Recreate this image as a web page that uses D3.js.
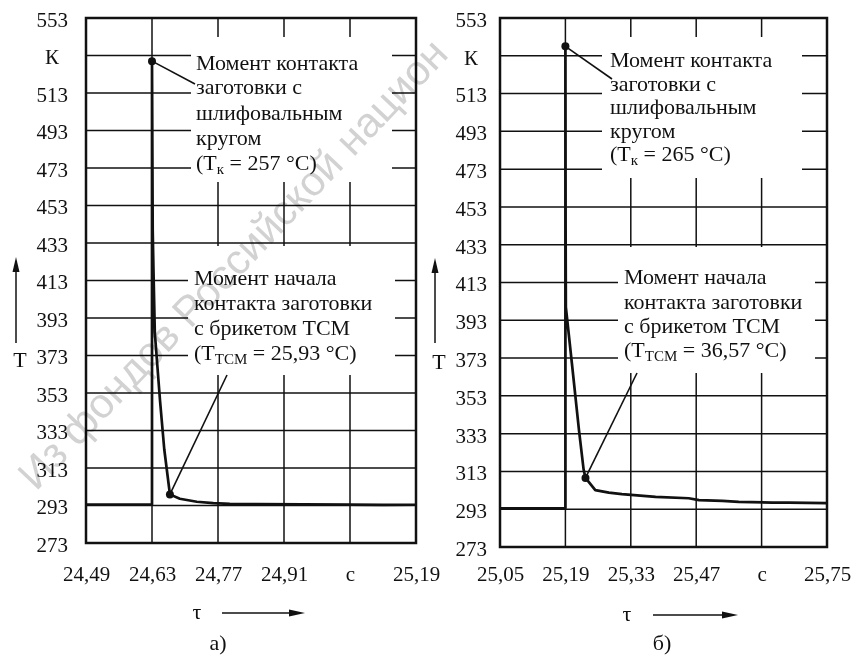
<!DOCTYPE html>
<html>
<head>
<meta charset="utf-8">
<script src="https://cdn.jsdelivr.net/npm/d3@7"></script>
<style>
  body { margin: 0; background: #fff; }
  svg { display: block; }
  .serif text, text.serif { font-family: "Liberation Serif", "Times New Roman", serif; fill: #111; }
</style>
</head>
<body>
<svg id="chart" width="851" height="660"></svg>
<script>
// ---- data -------------------------------------------------------------
// Temperature ticks, K (the 533 K position carries the unit "К")
const yTicks = [273, 293, 313, 333, 353, 373, 393, 413, 433, 453, 473, 493, 513, 533, 553];
const yUnitTick = 533;

// Panel а): time ticks, s (5th position carries the unit "с")
const tauTicksA = [24.49, 24.63, 24.77, 24.91, 25.05, 25.19];
// Panel б)
const tauTicksB = [25.05, 25.19, 25.33, 25.47, 25.61, 25.75];

// Thermocouple record, panel а)
const tauA  = [24.49, 24.63, 24.63, 24.6315, 24.633, 24.636, 24.647, 24.656, 24.668,
               24.689, 24.725, 24.76, 24.795, 24.85, 24.95, 25.05, 25.12, 25.19];
const tempA = [293.5, 293.5, 530, 440, 420, 385, 349, 323, 298.93,
               296.6, 295.0, 294.3, 293.9, 293.7, 293.6, 293.5, 293.3, 293.4];

// Thermocouple record, panel б)
const tauB  = [25.05, 25.19, 25.19, 25.1905, 25.191, 25.204, 25.219, 25.229, 25.233,
               25.254, 25.283, 25.311, 25.383, 25.454, 25.476, 25.526, 25.561, 25.633, 25.668, 25.75];
const tempB = [293.5, 293.5, 538, 440, 400, 370, 335, 314, 309.57,
               303.1, 301.8, 301.0, 299.5, 298.8, 297.8, 297.4, 296.9, 296.5, 296.5, 296.2];

// Marked moments: contact with the grinding wheel and with the ТСМ briquette (°C)
const contactTauA = 24.63, contactCA = 257;
const briquetteTauA = 24.668, briquetteCA = 25.93;
const contactTauB = 25.19, contactCB = 265;
const briquetteTauB = 25.233, briquetteCB = 36.57;
const KELVIN = 273;

// ---- helpers ----------------------------------------------------------
const svg = d3.select("#chart");
const ru = d3.formatLocale({ decimal: ",", thousands: " ", grouping: [3], currency: ["", ""] });
const f2 = ru.format(".2f");
const fC = v => (Number.isInteger(v) ? String(v) : f2(v));

function panel(opt) {
  const g = svg.append("g").attr("class", "serif");
  const x = d3.scaleLinear().domain([opt.ticks[0], opt.ticks[opt.ticks.length - 1]]).range([opt.x0, opt.x1]);
  const y = d3.scaleLinear().domain([273, 553]).range([opt.y0, opt.y1]);

  // grid
  g.append("g").selectAll("line").data(yTicks).join("line")
    .attr("x1", opt.x0).attr("x2", opt.x1)
    .attr("y1", d => y(d)).attr("y2", d => y(d))
    .attr("stroke", "#111").attr("stroke-width", 1.5);
  g.append("g").selectAll("line").data(opt.ticks).join("line")
    .attr("x1", d => x(d)).attr("x2", d => x(d))
    .attr("y1", opt.y0).attr("y2", opt.y1)
    .attr("stroke", "#111").attr("stroke-width", 1.5);

  // white fields behind the annotations
  g.append("g").selectAll("rect").data(opt.boxes).join("rect")
    .attr("x", b => b.x0).attr("y", b => b.y0)
    .attr("width", b => b.x1 - b.x0).attr("height", b => b.y1 - b.y0)
    .attr("fill", "#fff");

  // record
  const line = d3.line().x(d => x(d[0])).y(d => y(d[1]));
  g.append("path").datum(d3.zip(opt.tau, opt.temp))
    .attr("d", line).attr("fill", "none")
    .attr("stroke", "#111").attr("stroke-width", 2.7).attr("stroke-linejoin", "round");

  // leader lines and marker dots
  opt.marks.forEach(m => {
    g.append("line")
      .attr("x1", x(m.tau)).attr("y1", y(m.T))
      .attr("x2", m.to[0]).attr("y2", m.to[1])
      .attr("stroke", "#111").attr("stroke-width", 1.6);
    g.append("circle").attr("cx", x(m.tau)).attr("cy", y(m.T)).attr("r", 4).attr("fill", "#111");
  });

  // annotation text
  opt.boxes.forEach(b => {
    b.lines.forEach((segs, i) => {
      const t = g.append("text").attr("x", b.tx).attr("y", b.ty[i]).attr("dy", "0.35em")
        .attr("font-size", 22);
      segs.forEach(s => {
        if (typeof s === "string") t.append("tspan").text(s);
        else {
          t.append("tspan").attr("font-size", 15).attr("dy", 4).text(s.sub);
          t.append("tspan").attr("dy", -4).text(s.after);
        }
      });
    });
  });

  // frame
  g.append("rect").attr("x", opt.x0).attr("y", opt.y1)
    .attr("width", opt.x1 - opt.x0).attr("height", opt.y0 - opt.y1)
    .attr("fill", "none").attr("stroke", "#111").attr("stroke-width", 2.5);

  // axes (labels only)
  const yAxis = g.append("g").attr("transform", `translate(${opt.x0},0)`)
    .call(d3.axisLeft(y).tickValues(yTicks).tickSize(0).tickPadding(opt.yPad)
      .tickFormat(d => (d === yUnitTick ? "К" : d)));
  yAxis.select(".domain").remove();
  yAxis.attr("font-family", null).attr("font-size", 21);
  yAxis.selectAll(".tick text").attr("fill", "#111").attr("dy", "0.4em")
    .filter(d => d === yUnitTick).attr("text-anchor", "middle").attr("x", -(opt.yPad + 16));

  const xAxis = g.append("g").attr("transform", `translate(0,${opt.y0})`)
    .call(d3.axisBottom(x).tickValues(opt.ticks).tickSize(0).tickPadding(opt.xPad)
      .tickFormat((d, i) => (i === 4 ? "с" : f2(d))));
  xAxis.select(".domain").remove();
  xAxis.attr("font-family", null).attr("font-size", 21);
  xAxis.selectAll(".tick text").attr("fill", "#111");

  // axis titles with arrows
  g.append("text").attr("x", opt.tX[0]).attr("y", opt.tX[1]).attr("dy", "0.35em")
    .attr("text-anchor", "middle").attr("font-size", 22).text("T");
  g.append("line").attr("x1", opt.tArrow[0]).attr("x2", opt.tArrow[0])
    .attr("y1", opt.tArrow[1]).attr("y2", opt.tArrow[2] + 10)
    .attr("stroke", "#111").attr("stroke-width", 1.5);
  g.append("path").attr("fill", "#111")
    .attr("d", `M${opt.tArrow[0]},${opt.tArrow[2]} l-3.5,15 l7,0 z`);

  g.append("text").attr("x", opt.tauX[0]).attr("y", opt.tauX[1]).attr("dy", "0.3em")
    .attr("text-anchor", "middle").attr("font-size", 22).text("τ");
  g.append("line").attr("x1", opt.tauArrow[0]).attr("x2", opt.tauArrow[1] - 10)
    .attr("y1", opt.tauArrow[2]).attr("y2", opt.tauArrow[2])
    .attr("stroke", "#111").attr("stroke-width", 1.5);
  g.append("path").attr("fill", "#111")
    .attr("d", `M${opt.tauArrow[1]},${opt.tauArrow[2]} l-16,-3.5 l0,7 z`);

  g.append("text").attr("x", opt.caption[0]).attr("y", opt.caption[1]).attr("dy", "0.35em")
    .attr("text-anchor", "middle").attr("font-size", 22).text(opt.caption[2]);
}

// ---- panel а) ---------------------------------------------------------
panel({
  ticks: tauTicksA, tau: tauA, temp: tempA,
  x0: 86, x1: 416, y0: 543, y1: 18, yPad: 18, xPad: 23,
  marks: [
    { tau: contactTauA, T: contactCA + KELVIN, to: [195, 84] },
    { tau: briquetteTauA, T: briquetteCA + KELVIN, to: [227, 375] }
  ],
  boxes: [
    { x0: 191, y0: 37, x1: 392, y1: 182, tx: 196, ty: [62, 86, 112, 137, 162],
      lines: [["Момент контакта"], ["заготовки с"], ["шлифовальным"], ["кругом"],
              ["(T", { sub: "к", after: ` = ${fC(contactCA)} °C)` }]] },
    { x0: 188, y0: 246, x1: 395, y1: 375, tx: 194, ty: [277, 302, 327, 352],
      lines: [["Момент начала"], ["контакта заготовки"], ["с брикетом ТСМ"],
              ["(T", { sub: "ТСМ", after: ` = ${fC(briquetteCA)} °C)` }]] }
  ],
  tX: [20, 359], tArrow: [16, 343, 257],
  tauX: [197, 612], tauArrow: [222, 305, 613],
  caption: [218, 642, "а)"]
});

// ---- panel б) ---------------------------------------------------------
panel({
  ticks: tauTicksB, tau: tauB, temp: tempB,
  x0: 500, x1: 827, y0: 547, y1: 18, yPad: 13, xPad: 19,
  marks: [
    { tau: contactTauB, T: contactCB + KELVIN, to: [612, 79] },
    { tau: briquetteTauB, T: briquetteCB + KELVIN, to: [637, 373] }
  ],
  boxes: [
    { x0: 602, y0: 37, x1: 802, y1: 178, tx: 610, ty: [59, 83, 106, 130, 153],
      lines: [["Момент контакта"], ["заготовки с"], ["шлифовальным"], ["кругом"],
              ["(T", { sub: "к", after: ` = ${fC(contactCB)} °C)` }]] },
    { x0: 618, y0: 247, x1: 815, y1: 373, tx: 624, ty: [276, 301, 325, 349],
      lines: [["Момент начала"], ["контакта заготовки"], ["с брикетом ТСМ"],
              ["(T", { sub: "ТСМ", after: ` = ${fC(briquetteCB)} °C)` }]] }
  ],
  tX: [439, 361], tArrow: [435, 343, 258],
  tauX: [627, 614], tauArrow: [653, 738, 615],
  caption: [662, 642, "б)"]
});

// library stamp across the sheet
svg.append("text")
  .attr("transform", "translate(36,492) rotate(-46.5)")
  .attr("font-family", "Liberation Sans, Arial, sans-serif")
  .attr("font-size", 42)
  .attr("fill", "#d2d2d2")
  .style("mix-blend-mode", "multiply")
  .text("Из фондов Российской национ");
</script>
</body>
</html>
